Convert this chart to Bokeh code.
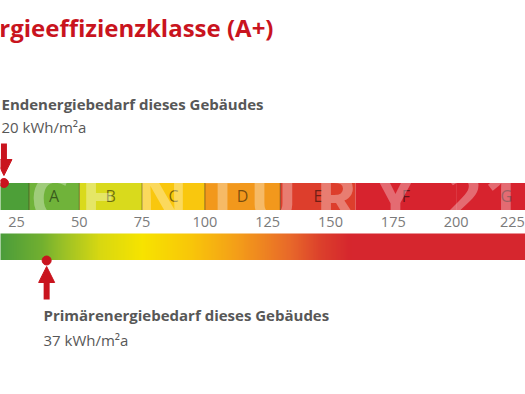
import numpy as np
from bokeh.plotting import figure
from bokeh.models import Range1d, Label, Arrow, NormalHead
from bokeh.embed import file_html
from bokeh.resources import INLINE
from bokeh.core.properties import value

# ---------------- data ----------------
title_text = "rgieeffizienzklasse (A+)"
end_label = "Endenergiebedarf dieses Gebäudes"
end_value = 20
end_text = "20 kWh/m²a"
primary_label = "Primärenergiebedarf dieses Gebäudes"
primary_value = 37
primary_text = "37 kWh/m²a"

classes = ["A", "B", "C", "D", "E", "F", "G"]
class_lower = [0, 30, 50, 75, 100, 130, 160, 200]
class_upper = [30, 50, 75, 100, 130, 160, 200, 250]
class_label_pos = [40, 62.5, 87.5, 115, 145, 180, 220]
class_colors = ["#4d9f38", "#70b33a", "#d9da1c", "#f9c70e", "#f2981c",
                "#dd3e2c", "#d7232e", "#d7232e"]
divider_values = [30, 50, 75, 100, 130]

tick_values = [25, 50, 75, 100, 125, 150, 175, 200, 225]
tick_labels = ["25", "50", "75", "100", "125", "150", "175", "200", "225"]

# gradient stops of the lower bar (value, colour)
grad_values = [0, 18, 35, 43, 58, 75, 95, 114, 134, 146, 158, 300]
grad_colors = ["#4a9c3c", "#4a9c3c", "#72b030", "#98c028", "#d8d812", "#f7e400",
               "#f9c60a", "#f49c1a", "#e8682a", "#dc402c", "#d6262e", "#d6262e"]

watermark_letters = ["C", "E", "N", "T", "U", "R", "Y", "2", "1"]

# ---------------- layout helpers ----------------
W, H = 525, 394


def Y(ref_y):
    return H - ref_y


def TY(ref_baseline, fs):
    # compensation for how the svg text baseline lands
    return H - ref_baseline + 0.38 * fs


def ref_to_val(px):
    return 25 + (px - 16) / 2.512


RED = "#c9141e"
GREY = "#575757"
FONT = "Open Sans"

p = figure(width=W, height=H, x_range=Range1d(ref_to_val(0), ref_to_val(W)),
           y_range=Range1d(0, H), output_backend="svg", toolbar_location=None,
           min_border=0, background_fill_color="white", border_fill_color="white")
p.axis.visible = False
p.grid.visible = False
p.outline_line_color = None

# ---- top class bar ----
p.quad(left=class_lower, right=class_upper, top=Y(182.5), bottom=Y(209.5),
       fill_color=class_colors, line_color=None)
p.segment(x0=divider_values, x1=divider_values, y0=Y(182.5), y1=Y(209.5),
          line_color="#4a3a10", line_alpha=0.6, line_width=1)
p.text(x=class_label_pos, y=TY(201.7, 16), text=classes, text_align="center",
       text_baseline="alphabetic", text_font=value(FONT), text_font_size="16px",
       text_color="#000000", text_alpha=0.5)

# ---- lower gradient bar ----
N = 1200
gx0, gx1 = 0, 300
xs = np.linspace(gx0, gx1, N)


def hex_to_rgb(h):
    return [int(h[i:i + 2], 16) for i in (1, 3, 5)]


rgbs = np.array([hex_to_rgb(c) for c in grad_colors], dtype=float)
img = np.empty((1, N), dtype=np.uint32)
view = img.view(dtype=np.uint8).reshape((1, N, 4))
for k in range(3):
    view[0, :, k] = np.interp(xs, grad_values, rgbs[:, k]).astype(np.uint8)
view[0, :, 3] = 255
p.image_rgba(image=[img], x=gx0, y=Y(259.5), dw=gx1 - gx0, dh=26.5)

# ---- watermark ----
wm_ref_x = [50, 98, 162, 222, 273, 336, 395, 463, 502]
p.text(x=[ref_to_val(v) for v in wm_ref_x], y=TY(220, 64), text=watermark_letters,
       text_align="center", text_baseline="alphabetic", text_font=value(FONT),
       text_font_size="64px", text_font_style="bold", text_color="white", text_alpha=0.33)

# ---- tick labels ----
tick_align = ["center"] * (len(tick_values) - 1) + ["right"]
tick_shift = [0] * (len(tick_values) - 1) + [6]
p.text(x=tick_values, y=TY(227, 14.5), text=tick_labels, text_align=tick_align,
       x_offset=tick_shift, text_baseline="alphabetic", text_font=value(FONT),
       text_font_size="14.5px", text_color="#7a7a7a")

# ---- markers ----
p.scatter(x=[end_value], y=[Y(182.5)], size=9, fill_color=RED, line_color=RED)
p.scatter(x=[primary_value], y=[Y(260)], size=9, fill_color=RED, line_color=RED)
p.add_layout(Arrow(x_start=end_value, y_start=Y(143), x_end=end_value, y_end=Y(175),
                   line_color=RED, line_width=6,
                   end=NormalHead(size=16, fill_color=RED, line_color=RED, line_width=1)))
p.add_layout(Arrow(x_start=primary_value, y_start=Y(299), x_end=primary_value, y_end=Y(266),
                   line_color=RED, line_width=6,
                   end=NormalHead(size=16, fill_color=RED, line_color=RED, line_width=1)))

# ---- texts ----
p.add_layout(Label(x=273, y=TY(36.5, 24), x_units="screen", text=title_text,
                   text_align="right", text_baseline="alphabetic", text_font=FONT,
                   text_font_size="24px", text_font_style="bold", text_color=RED))
p.add_layout(Label(x=1, y=TY(109.5, 15), x_units="screen", text=end_label,
                   text_baseline="alphabetic", text_font=FONT, text_font_size="15px",
                   text_font_style="bold", text_color=GREY))
p.add_layout(Label(x=1, y=TY(132.5, 15), x_units="screen", text=end_text,
                   text_baseline="alphabetic", text_font=FONT, text_font_size="15px",
                   text_color=GREY))
p.add_layout(Label(x=43, y=TY(320.5, 15), x_units="screen", text=primary_label,
                   text_baseline="alphabetic", text_font=FONT, text_font_size="15px",
                   text_font_style="bold", text_color=GREY))
p.add_layout(Label(x=43, y=TY(345.5, 15), x_units="screen", text=primary_text,
                   text_baseline="alphabetic", text_font=FONT, text_font_size="15px",
                   text_color=GREY))

open("out.html", "w").write(file_html(p, INLINE))
